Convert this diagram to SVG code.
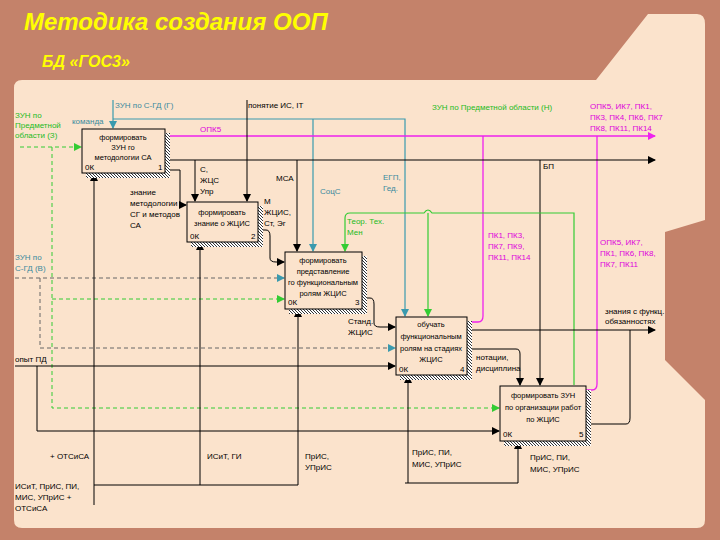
<svg xmlns="http://www.w3.org/2000/svg" width="720" height="540" viewBox="0 0 720 540">
<defs>
<pattern id="hatch" width="3" height="3" patternUnits="userSpaceOnUse"><rect width="3" height="3" fill="#fff"/><path d="M0,0L3,3" stroke="#333" stroke-width="1"/></pattern>
<marker id="ak" markerWidth="8" markerHeight="8" refX="7" refY="4" orient="auto" markerUnits="userSpaceOnUse"><path d="M0,0L8,4L0,8z" fill="#000"/></marker>
<marker id="ac" markerWidth="8" markerHeight="8" refX="7" refY="4" orient="auto" markerUnits="userSpaceOnUse"><path d="M0,0L8,4L0,8z" fill="#3a9aae"/></marker>
<marker id="ag" markerWidth="8" markerHeight="8" refX="7" refY="4" orient="auto" markerUnits="userSpaceOnUse"><path d="M0,0L8,4L0,8z" fill="#33cc33"/></marker>
<marker id="am" markerWidth="8" markerHeight="8" refX="7" refY="4" orient="auto" markerUnits="userSpaceOnUse"><path d="M0,0L8,4L0,8z" fill="#ee22ee"/></marker>
</defs>
<style>
text{font-family:"Liberation Sans",Arial,sans-serif;font-size:8px;fill:#000}
.c{fill:#3a8a9e}.g{fill:#22bb22}.m{fill:#dd00dd}
.bt{text-anchor:middle;font-size:7.5px}
.box rect.b{fill:#fbe3cc;stroke:#000;stroke-width:1}
.box rect.s{fill:url(#hatch)}
.k{stroke:#000;fill:none;stroke-width:1}
.cy{stroke:#3a9aae;fill:none;stroke-width:1.2}
.gr{stroke:#33cc33;fill:none;stroke-width:1.2}
.mg{stroke:#ee22ee;fill:none;stroke-width:1.3}
.dg{stroke:#33cc33;fill:none;stroke-dasharray:4,3}
.dc{stroke:#666;fill:none;stroke-dasharray:4,3}
</style>
<rect width="720" height="540" fill="#c4826a"/>
<path d="M22,80 L596,80 L648,14 L697,14 Q705,14 705,24 L705,220 L665,232 L665,360 L705,400 L705,520 Q705,528 697,528 L22,528 Q14,528 14,520 L14,88 Q14,80 22,80Z" fill="#fbe3cc"/>
<text x="24" y="30" style="font-size:24px;font-weight:bold;font-style:italic;fill:#ffff00">Методика создания ООП</text>
<text x="42" y="67" style="font-size:16px;font-weight:bold;font-style:italic;fill:#ffff00">БД «ГОС3»</text>

<g id="connectors">
<path class="cy" d="M113,100 L113,128" marker-end="url(#ac)"/>
<path class="cy" d="M113,119 L405,119 L405,316" marker-end="url(#ac)"/>
<path class="cy" d="M313,119 L313,251" marker-end="url(#ac)"/>
<path class="mg" d="M165,136 L655,136" marker-end="url(#am)"/>
<path class="mg" d="M467,322 L478,322 Q483,322 483,316 L483,136"/>
<path class="mg" d="M586,390 L592,390 Q597,390 597,384 L597,136"/>
<path class="k" d="M165,160 L655,160" marker-end="url(#ak)"/>
<path class="k" d="M195,160 L195,201" marker-end="url(#ak)"/>
<path class="k" d="M297,160 L297,251" marker-end="url(#ak)"/>
<path class="k" d="M540,160 L540,385" marker-end="url(#ak)"/>
<path class="k" d="M247,100 L247,201" marker-end="url(#ak)"/>
<path class="gr" d="M574,385 L574,213 L432,213 Q428,207 424,213 L350,213 Q345,213 345,218 L345,251" marker-end="url(#ag)"/>
<path class="gr" d="M428,213 L428,316" marker-end="url(#ag)"/>
<path class="dg" d="M20,147 L81,147" marker-end="url(#ag)"/>
<path class="dg" d="M52,147 L52,408 L499,408" marker-end="url(#ag)"/>
<path class="dg" d="M52,299 L284,299" marker-end="url(#ag)"/>
<path class="dc" d="M15,278 L284,278" marker-end="url(#ac)"/>
<path class="dc" d="M40,278 L40,348 L395,348" marker-end="url(#ac)"/>
<path class="k" d="M15,366 L395,366" marker-end="url(#ak)"/>
<path class="k" d="M37,366 L37,431 L499,431" marker-end="url(#ak)"/>
<path class="k" d="M94,505 L94,174" marker-end="url(#ak)"/>
<path class="k" d="M94,485 L298,485"/>
<path class="k" d="M200,485 L200,243" marker-end="url(#ak)"/>
<path class="k" d="M298,485 L298,310" marker-end="url(#ak)"/>
<path class="k" d="M405,483 L518,483 L518,442" marker-end="url(#ak)"/>
<path class="k" d="M408,483 L408,376" marker-end="url(#ak)"/>
<path class="k" d="M258,230 L266,230 Q270,230 270,236 L270,258 Q270,262 276,262 L284,262" marker-end="url(#ak)"/>
<path class="k" d="M362,298 L370,298 Q374,298 374,304 L374,323 Q374,327 380,327 L395,327" marker-end="url(#ak)"/>
<path class="k" d="M467,330 L655,330" marker-end="url(#ak)"/>
<path class="k" d="M586,424 L626,424 Q630,424 630,418 L630,330"/>
<path class="k" d="M467,349 L516,349 Q520,349 520,354 L520,385" marker-end="url(#ak)"/>
<path class="k" d="M165,170 L180,170 L180,205 L186,205" marker-end="url(#ak)"/>
</g>

<g id="box1" class="box"><rect class="s" x="86" y="133" width="84" height="45"/><rect class="b" x="82" y="129" width="83" height="44"/>
<text class="bt" x="123" y="140">формировать</text><text class="bt" x="123" y="150">ЗУН го</text><text class="bt" x="123" y="160">методологии СА</text><text x="85" y="170">0К</text><text x="158" y="170">1</text></g>
<g id="box2" class="box"><rect class="s" x="191" y="206" width="72" height="41"/><rect class="b" x="187" y="202" width="71" height="40"/>
<text class="bt" x="222" y="215">формировать</text><text class="bt" x="222" y="226">знание о ЖЦИС</text><text x="190" y="239">0К</text><text x="251" y="239">2</text></g>
<g id="box3" class="box"><rect class="s" x="289" y="256" width="78" height="58"/><rect class="b" x="285" y="252" width="77" height="57"/>
<text class="bt" x="323" y="263">формировать</text><text class="bt" x="323" y="274">представление</text><text class="bt" x="323" y="285">го функциональным</text><text class="bt" x="323" y="296">ролям ЖЦИС</text><text x="288" y="305">0К</text><text x="355" y="305">3</text></g>
<g id="box4" class="box"><rect class="s" x="400" y="321" width="72" height="59"/><rect class="b" x="396" y="317" width="71" height="58"/>
<text class="bt" x="431" y="327">обучать</text><text class="bt" x="431" y="339">функциональным</text><text class="bt" x="431" y="351">ролям на стадиях</text><text class="bt" x="431" y="362">ЖЦИС</text><text x="399" y="372">0К</text><text x="460" y="372">4</text></g>
<g id="box5" class="box"><rect class="s" x="504" y="390" width="87" height="56"/><rect class="b" x="500" y="386" width="86" height="55"/>
<text class="bt" x="543" y="398">формировать ЗУН</text><text class="bt" x="543" y="410">по организации работ</text><text class="bt" x="543" y="422">по ЖЦИС</text><text x="503" y="437">0К</text><text x="579" y="437">5</text></g>

<g id="labels">
<text class="g" x="15" y="118">ЗУН по</text><text class="g" x="15" y="128">Предметной</text><text class="g" x="15" y="138">области (З)</text>
<text class="c" x="115" y="108">ЗУН по С-ГД (Г)</text>
<text class="c" x="72" y="124">команда</text>
<text x="248" y="108">понятие ИС, IT</text>
<text class="m" x="200" y="132">ОПК5</text>
<text class="g" x="432" y="110">ЗУН по Предметной области (Н)</text>
<text class="m" x="590" y="109">ОПК5, ИК7, ПК1,</text><text class="m" x="590" y="120">ПК3, ПК4, ПК6, ПК7</text><text class="m" x="590" y="131">ПК8, ПК11, ПК14</text>
<text x="543" y="169">БП</text>
<text x="200" y="172">С,</text><text x="200" y="183">ЖЦС</text><text x="200" y="194">Упр</text>
<text x="276" y="181">МСА</text>
<text class="c" x="320" y="194">СоцС</text>
<text class="c" x="383" y="180">ЕГП,</text><text class="c" x="383" y="191">Гед.</text>
<text x="130" y="195">знание</text><text x="130" y="206">методологии</text><text x="130" y="217">СГ и методов</text><text x="130" y="228">СА</text>
<text x="264" y="204">М</text><text x="264" y="215">ЖЦИС,</text><text x="264" y="226">Ст, Эг</text>
<text class="g" x="347" y="224">Теор. Тех.</text><text class="g" x="347" y="235">Мен</text>
<text class="m" x="488" y="238">ПК1, ПК3,</text><text class="m" x="488" y="249">ПК7, ПК9,</text><text class="m" x="488" y="260">ПК11, ПК14</text>
<text class="m" x="600" y="245">ОПК5, ИК7,</text><text class="m" x="600" y="256">ПК1, ПК6, ПК8,</text><text class="m" x="600" y="267">ПК7, ПК11</text>
<text class="c" x="15" y="260">ЗУН по</text><text class="c" x="15" y="271">С-ГД (В)</text>
<text x="348" y="324">Станд.</text><text x="348" y="335">ЖЦИС</text>
<text x="605" y="314">знания с функц.</text><text x="605" y="324">обязанностях</text>
<text x="476" y="360">нотации,</text><text x="476" y="371">дисциплина</text>
<text x="15" y="362">опыт ПД</text>
<text x="50" y="459">+ ОТСиСА</text>
<text x="207" y="459">ИСиТ, ГИ</text>
<text x="305" y="459">ПрИС,</text><text x="305" y="470">УПрИС</text>
<text x="15" y="489">ИСиТ, ПрИС, ПИ,</text><text x="15" y="500">МИС, УПрИС +</text><text x="15" y="511">ОТСиСА</text>
<text x="412" y="455">ПрИС, ПИ,</text><text x="412" y="467">МИС, УПрИС</text>
<text x="530" y="460">ПрИС, ПИ,</text><text x="530" y="472">МИС, УПрИС</text>
</g>
</svg>
